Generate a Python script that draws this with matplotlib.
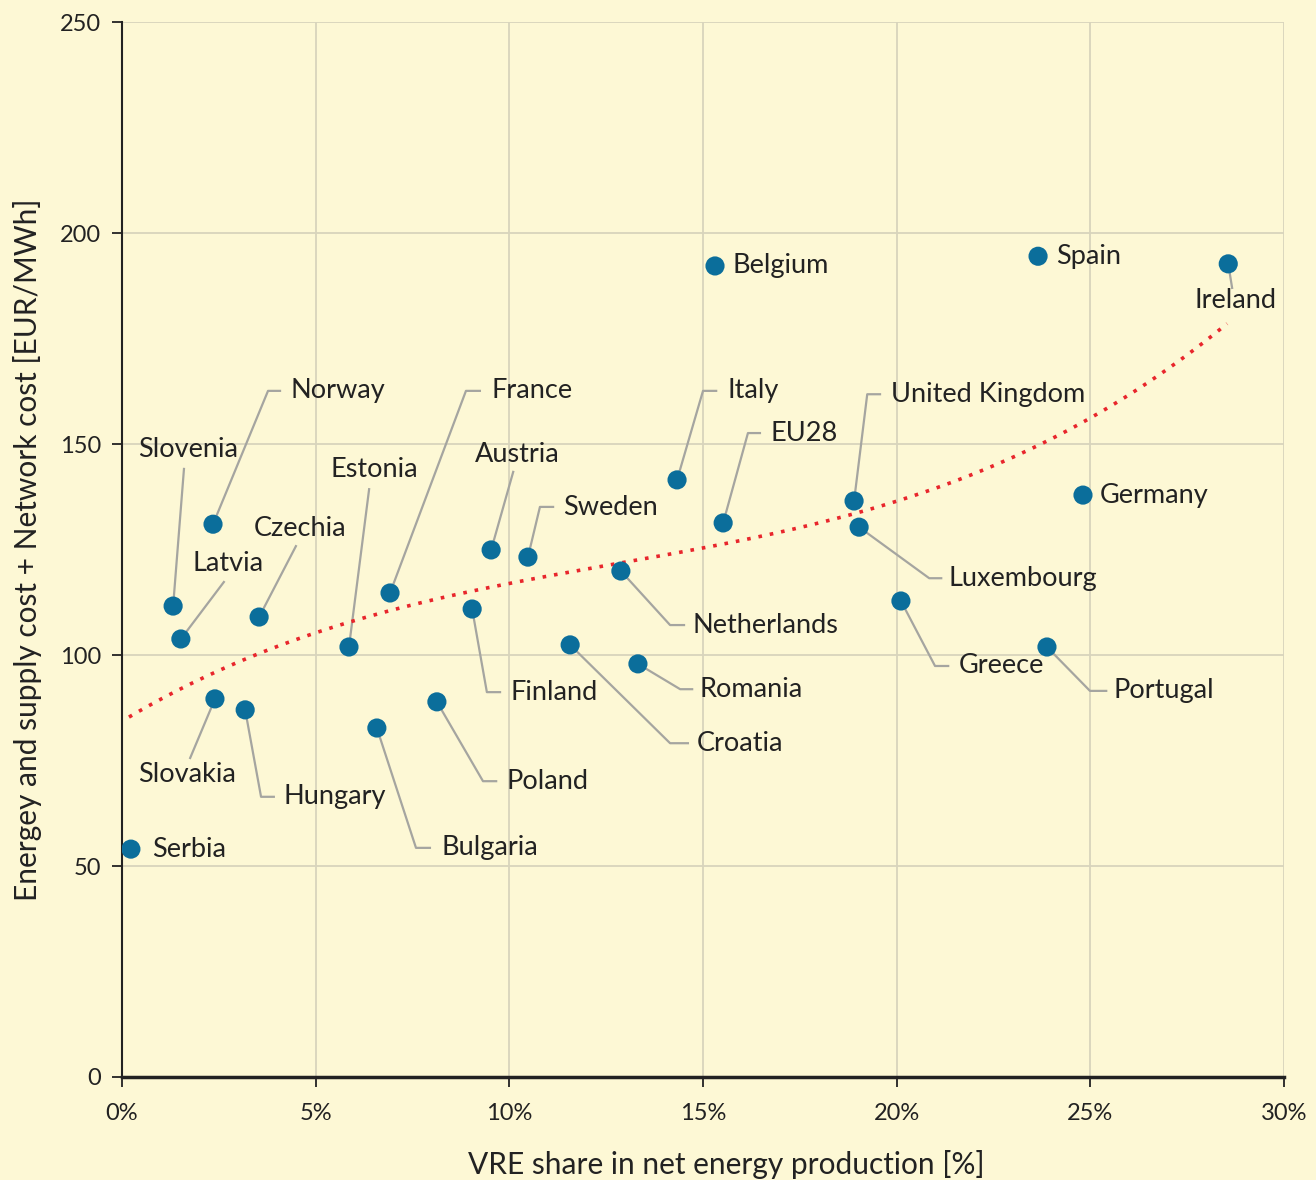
import numpy as np
import matplotlib.pyplot as plt
from matplotlib.ticker import FuncFormatter

plt.rcParams['font.family'] = ['Lato', 'DejaVu Sans']

# data
countries = ['Serbia', 'Slovenia', 'Latvia', 'Norway', 'Slovakia', 'Hungary', 'Czechia',
             'Estonia', 'Bulgaria', 'France', 'Poland', 'Finland', 'Austria', 'Sweden',
             'Croatia', 'Netherlands', 'Romania', 'Italy', 'Belgium', 'EU28',
             'United Kingdom', 'Luxembourg', 'Greece', 'Spain', 'Portugal', 'Germany', 'Ireland']
vre_share = [0.23, 1.32, 1.52, 2.35, 2.40, 3.18, 3.54,
             5.86, 6.58, 6.92, 8.13, 9.04, 9.53, 10.48,
             11.57, 12.88, 13.32, 14.33, 15.31, 15.52,
             18.90, 19.03, 20.11, 23.65, 23.88, 24.81, 28.56]
cost = [54.0, 111.6, 103.8, 131.0, 89.6, 87.0, 109.0,
        101.9, 82.7, 114.7, 88.9, 110.9, 124.9, 123.2,
        102.4, 119.9, 97.9, 141.5, 192.2, 131.3,
        136.5, 130.3, 112.8, 194.5, 101.9, 137.9, 192.7]

# trend line
trend_x = [0.18, 5.0, 10.0, 15.0, 19.0, 20.0, 25.0, 28.53]
trend_y = [85.3, 105.2, 117.1, 125.4, 133.6, 136.3, 156.5, 178.4]

# label layout: (text x, text y, ha, leader path)
labels = {
    'Serbia': (0.77, 53.8, 'left', []),
    'Belgium': (15.75, 192.4, 'left', []),
    'Spain': (24.11, 194.5, 'left', []),
    'Germany': (25.25, 137.7, 'left', []),
    'Ireland': (28.74, 184.1, 'center', [(28.66, 187.0)]),
    'Slovenia': (1.70, 148.8, 'center', [(1.60, 144.1)]),
    'Norway': (4.34, 162.6, 'left', [(3.77, 162.6), (4.08, 162.6)]),
    'Latvia': (2.74, 121.6, 'center', [(2.63, 117.3)]),
    'Czechia': (4.60, 130.1, 'center', [(4.49, 125.8)]),
    'Estonia': (6.51, 143.9, 'center', [(6.38, 139.3)]),
    'France': (9.55, 162.6, 'left', [(8.88, 162.6), (9.24, 162.6)]),
    'Austria': (10.20, 147.6, 'center', [(10.10, 143.4)]),
    'Sweden': (11.39, 134.9, 'left', [(10.79, 135.1), (11.13, 135.1)]),
    'Italy': (15.62, 162.6, 'left', [(15.0, 162.6), (15.34, 162.6)]),
    'EU28': (16.73, 152.6, 'left', [(16.16, 152.6), (16.47, 152.6)]),
    'United Kingdom': (19.85, 161.8, 'left', [(19.24, 161.8), (19.57, 161.8)]),
    'Luxembourg': (21.35, 118.2, 'left', [(20.84, 118.2), (21.15, 118.2)]),
    'Netherlands': (14.72, 107.1, 'left', [(14.15, 107.1), (14.51, 107.1)]),
    'Finland': (10.04, 91.2, 'left', [(9.42, 91.2), (9.76, 91.2)]),
    'Croatia': (14.85, 79.1, 'left', [(14.15, 79.1), (14.61, 79.1)]),
    'Romania': (14.92, 91.9, 'left', [(14.41, 91.9), (14.72, 91.9)]),
    'Greece': (21.59, 97.4, 'left', [(20.99, 97.4), (21.33, 97.4)]),
    'Portugal': (25.61, 91.5, 'left', [(24.99, 91.5), (25.41, 91.5)]),
    'Poland': (9.92, 70.1, 'left', [(9.32, 70.1), (9.66, 70.1)]),
    'Bulgaria': (8.24, 54.3, 'left', [(7.59, 54.3), (7.95, 54.3)]),
    'Hungary': (4.18, 66.4, 'left', [(3.59, 66.4), (3.92, 66.4)]),
    'Slovakia': (1.68, 71.6, 'center', [(1.76, 75.6)]),
}

bg = '#fdf8d5'
fig = plt.figure(figsize=(13.16, 11.8), dpi=100, facecolor=bg)
ax = fig.add_axes([0.0927, 0.0873, 0.883, 0.894])
ax.set_facecolor(bg)

ax.set_xlim(0, 30)
ax.set_ylim(0, 250)
ax.set_xticks(np.arange(0, 31, 5))
ax.set_yticks(np.arange(0, 251, 50))
ax.xaxis.set_major_formatter(FuncFormatter(lambda v, p: '%d%%' % v))
ax.grid(True, color='#d8d4bc', linewidth=1.3)
ax.set_axisbelow(True)
for s in ['top', 'right']:
    ax.spines[s].set_visible(False)
ax.spines['left'].set_color('#222222')
ax.spines['left'].set_linewidth(1.5)
ax.spines['bottom'].set_color('#222222')
ax.spines['bottom'].set_linewidth(2.5)
ax.tick_params(axis='both', direction='out', length=7, width=1.3, color='#222222',
               labelsize=17, labelcolor='#222222')
ax.tick_params(axis='x', pad=12)
ax.tick_params(axis='y', pad=8)

ax.set_xlabel('VRE share in net energy production [%]', fontsize=21.5, color='#222222')
ax.xaxis.set_label_coords(0.52, -0.069)
ax.set_ylabel('Energey and supply cost + Network cost [EUR/MWh]', fontsize=21.5, color='#222222', labelpad=13)

# trend line
coef = np.polyfit(trend_x, trend_y, 3)
tx = np.linspace(trend_x[0], trend_x[-1], 300)
ax.plot(tx, np.polyval(coef, tx), color='#e8262c', linestyle=(0, (1, 2.2)),
        linewidth=2.6, zorder=3)

# leader lines and labels
for name, x, y in zip(countries, vre_share, cost):
    tx_, ty_, ha, path = labels[name]
    if path:
        px = [x] + [p[0] for p in path]
        py = [y] + [p[1] for p in path]
        ax.plot(px, py, color='#a5a5a0', linewidth=1.6, zorder=2)
    ax.text(tx_, ty_, name, ha=ha, va='center', fontsize=19.5, color='#222222', zorder=5)

ax.scatter(vre_share, cost, s=190, color='#0b6e9b', edgecolors='none', zorder=4)

fig.savefig('out.png', dpi=100, facecolor=bg)
